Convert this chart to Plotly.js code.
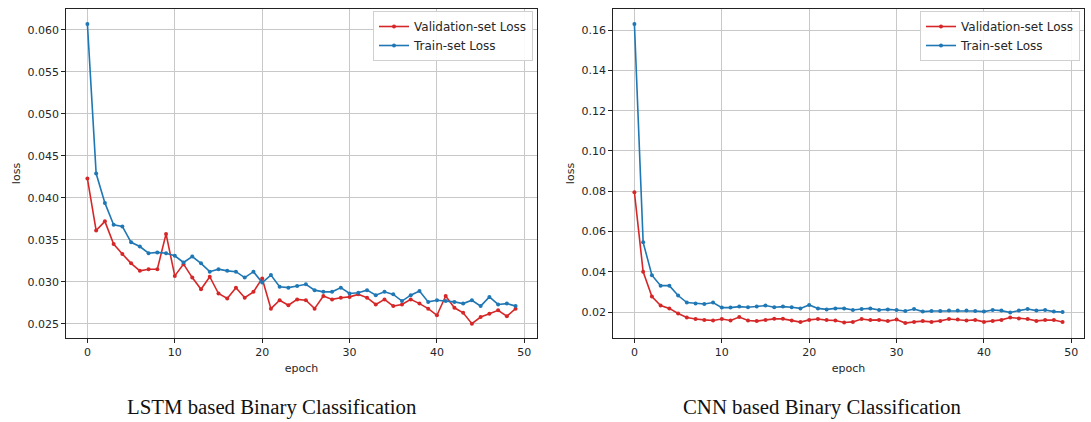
<!DOCTYPE html>
<html><head><meta charset="utf-8">
<script src="https://cdn.plot.ly/plotly-3.0.1.min.js"></script>
<style>html,body{margin:0;padding:0;background:#fff}#chart{width:1091px;height:422px}</style>
</head><body><div id="chart"></div>
<script>
const epochs = Array.from({length: 50}, (_, i) => i);
const lstmVal = [0.0423,0.0361,0.0372,0.0345,0.0333,0.0322,0.0313,0.0315,0.0315,0.0357,
  0.0307,0.0321,0.0305,0.0291,0.0306,0.0286,0.0280,0.0293,0.0281,0.0288,
  0.0304,0.0268,0.0278,0.0272,0.0279,0.0278,0.0268,0.0283,0.0279,0.0281,
  0.0282,0.0285,0.0281,0.0273,0.0279,0.0271,0.0273,0.0279,0.0274,0.0268,
  0.0260,0.0283,0.0269,0.0263,0.0250,0.0258,0.0262,0.0266,0.0259,0.0268];
const lstmTrain = [0.0607,0.0429,0.0394,0.0368,0.0366,0.0347,0.0342,0.0334,0.0335,0.0334,
  0.0331,0.0323,0.0330,0.0322,0.0312,0.0315,0.0313,0.0312,0.0305,0.0312,
  0.0299,0.0308,0.0294,0.0293,0.0295,0.0297,0.0290,0.0288,0.0288,0.0293,
  0.0286,0.0287,0.0290,0.0284,0.0288,0.0285,0.0277,0.0284,0.0289,0.0276,
  0.0278,0.0277,0.0276,0.0274,0.0278,0.0271,0.0282,0.0273,0.0274,0.0271];
const cnnVal = [0.0795,0.0400,0.0277,0.0232,0.0218,0.0193,0.0173,0.0165,0.0161,0.0158,
  0.0165,0.0158,0.0175,0.0158,0.0155,0.0160,0.0166,0.0166,0.0158,0.0150,
  0.0161,0.0165,0.0160,0.0158,0.0148,0.0151,0.0165,0.0160,0.0161,0.0155,
  0.0163,0.0145,0.0151,0.0155,0.0151,0.0156,0.0165,0.0163,0.0158,0.0161,
  0.0151,0.0156,0.0161,0.0173,0.0168,0.0165,0.0156,0.0160,0.0160,0.0150];
const cnnTrain = [0.1631,0.0546,0.0383,0.0331,0.0331,0.0282,0.0247,0.0242,0.0240,0.0247,
  0.0222,0.0222,0.0227,0.0224,0.0227,0.0232,0.0224,0.0227,0.0224,0.0218,
  0.0235,0.0218,0.0213,0.0218,0.0218,0.0210,0.0215,0.0218,0.0210,0.0213,
  0.0210,0.0205,0.0215,0.0202,0.0205,0.0205,0.0207,0.0208,0.0207,0.0205,
  0.0202,0.0210,0.0207,0.0198,0.0207,0.0215,0.0207,0.0210,0.0202,0.0200];
const seriesNames = ['Validation-set Loss', 'Train-set Loss'];
const captions = ['LSTM based Binary Classification', 'CNN based Binary Classification'];
const xTicks = [0, 10, 20, 30, 40, 50];
const lstmYTicks = [0.025, 0.030, 0.035, 0.040, 0.045, 0.050, 0.055, 0.060];
const cnnYTicks = [0.02, 0.04, 0.06, 0.08, 0.10, 0.12, 0.14, 0.16];

const RED = '#d62728', BLUE = '#1f77b4';
function tr(y, name, color, xa, ya, leg) {
  return {x: epochs, y: y, name: name, type: 'scatter', mode: 'lines+markers',
    xaxis: xa, yaxis: ya, legend: leg,
    line: {color: color, width: 1.6}, marker: {color: color, size: 4}};
}
const data = [
  tr(lstmVal, seriesNames[0], RED, 'x', 'y', 'legend'),
  tr(lstmTrain, seriesNames[1], BLUE, 'x', 'y', 'legend'),
  tr(cnnVal, seriesNames[0], RED, 'x2', 'y2', 'legend2'),
  tr(cnnTrain, seriesNames[1], BLUE, 'x2', 'y2', 'legend2')
];
const tickFont = {family: 'DejaVu Sans', size: 11, color: '#262626'};
function xax(dom, anchor) {
  return {domain: dom, anchor: anchor, range: [-2.45, 51.45], tickvals: xTicks,
    showgrid: true, gridcolor: '#c8c8c8', gridwidth: 1, zeroline: false,
    showline: true, mirror: true, linecolor: '#222', linewidth: 1.3,
    ticks: 'outside', ticklen: 3.5, tickcolor: '#222', tickfont: tickFont,
    title: {text: 'epoch', font: {family: 'DejaVu Sans', size: 11, color: '#262626'}, standoff: 6}};
}
function yax(dom, anchor, range, vals, fmt) {
  return {domain: dom, anchor: anchor, range: range, tickvals: vals, tickformat: fmt,
    showgrid: true, gridcolor: '#c8c8c8', gridwidth: 1, zeroline: false,
    showline: true, mirror: true, linecolor: '#222', linewidth: 1.3,
    ticks: 'outside', ticklen: 3.5, tickcolor: '#222', tickfont: tickFont,
    title: {text: 'loss', font: {family: 'DejaVu Sans', size: 11, color: '#262626'}, standoff: 4}};
}
const yDom = [1 - 338/422, 1 - 9/422];
const legStyle = {font: {family: 'DejaVu Sans', size: 12, color: '#262626'},
  bgcolor: 'rgba(255,255,255,0.9)', bordercolor: '#d0d0d0', borderwidth: 1,
  xanchor: 'right', yanchor: 'top', tracegroupgap: 0, itemwidth: 30};
const layout = {
  width: 1091, height: 422, margin: {l: 0, r: 0, t: 0, b: 0},
  paper_bgcolor: '#fff', plot_bgcolor: '#fff', showlegend: true,
  xaxis: xax([66/1091, 537/1091], 'y'),
  yaxis: yax(yDom, 'x', [0.0233, 0.0625], lstmYTicks, '.3f'),
  xaxis2: xax([613/1091, 1084/1091], 'y2'),
  yaxis2: yax(yDom, 'x2', [0.0071, 0.1705], cnnYTicks, '.2f'),
  legend: Object.assign({x: 533/1091, y: 1 - 11/422}, legStyle),
  legend2: Object.assign({x: 1080/1091, y: 1 - 11/422}, legStyle),
  annotations: [
    {text: captions[0], xref: 'paper', yref: 'paper', x: 272/1091, y: 1 - 407/422,
     showarrow: false, xanchor: 'center', yanchor: 'middle',
     font: {family: 'Liberation Serif', size: 20.8, color: '#111'}},
    {text: captions[1], xref: 'paper', yref: 'paper', x: 822/1091, y: 1 - 407/422,
     showarrow: false, xanchor: 'center', yanchor: 'middle',
     font: {family: 'Liberation Serif', size: 20.8, color: '#111'}}
  ]
};
Plotly.newPlot('chart', data, layout, {displayModeBar: false, staticPlot: true});
</script></body></html>
